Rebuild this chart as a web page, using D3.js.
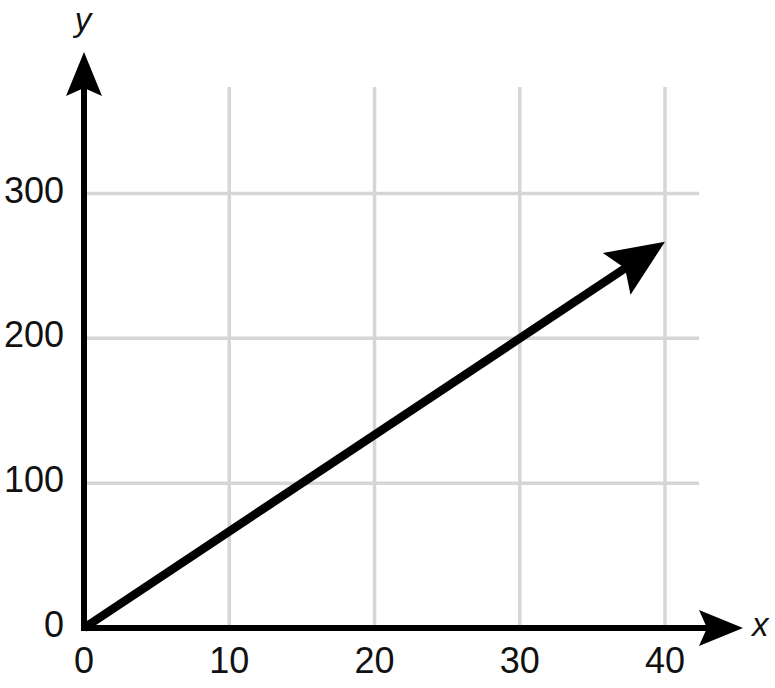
<!DOCTYPE html>
<html lang="en">
<head>
<meta charset="utf-8">
<title>Line y = 20x/3</title>
<script src="https://cdn.jsdelivr.net/npm/d3@7"></script>
<style>
  body { margin: 0; background: #fff; }
  text { font-family: "Liberation Sans", Arial, sans-serif; fill: #111; }
  .grid line { stroke: #d6d6d8; stroke-width: 3.5px; }
</style>
</head>
<body>
<div id="chart"></div>
<script>
// data
var xTicks = [0, 10, 20, 30, 40];
var yTicks = [0, 100, 200, 300];
var lineX = [0, 40];
var lineY = [0, 266.7];

var width = 775, height = 688;

var svg = d3.select("#chart").append("svg")
    .attr("width", width)
    .attr("height", height);

var x = d3.scaleLinear().domain([0, 40]).range([84, 665]);
var y = d3.scaleLinear().domain([0, 300]).range([628, 193.5]);

// grid
var grid = svg.append("g").attr("class", "grid");
grid.selectAll(".v")
    .data(xTicks.filter(d => d > 0))
  .enter().append("line")
    .attr("x1", d => x(d)).attr("x2", d => x(d))
    .attr("y1", y(0)).attr("y2", y(373.5));
grid.selectAll(".h")
    .data(yTicks.filter(d => d > 0))
  .enter().append("line")
    .attr("x1", x(0)).attr("x2", x(42.35))
    .attr("y1", d => y(d)).attr("y2", d => y(d));

// arrow helper: shaft from (x0,y0) to tip (x1,y1)
function arrow(x0, y0, x1, y1, sw, len, hw, notch) {
  var dx = x1 - x0, dy = y1 - y0, l = Math.sqrt(dx * dx + dy * dy);
  var ux = dx / l, uy = dy / l, px = -uy, py = ux;
  var bx = x1 - ux * len, by = y1 - uy * len;
  var nx = x1 - ux * (len - notch), ny = y1 - uy * (len - notch);
  svg.append("line")
      .attr("x1", x0).attr("y1", y0)
      .attr("x2", nx + ux * 1).attr("y2", ny + uy * 1)
      .attr("stroke", "#000").attr("stroke-width", sw);
  svg.append("path")
      .attr("d", "M" + x1 + "," + y1 +
        "L" + (bx + px * hw) + "," + (by + py * hw) +
        "L" + nx + "," + ny +
        "L" + (bx - px * hw) + "," + (by - py * hw) + "Z")
      .attr("fill", "#000");
}

// data line
arrow(x(lineX[0]), y(lineY[0]), x(lineX[1]), y(lineY[1]), 8.5, 58, 25, 10);

// axes
arrow(x(0), y(0) + 3, x(0), 52, 6, 44, 18, 8);
arrow(x(0) - 3, y(0), 743, y(0), 6, 44, 18, 8);

// tick labels
svg.append("g").selectAll("text")
    .data(xTicks)
  .enter().append("text")
    .attr("x", d => x(d))
    .attr("y", y(0) + 45)
    .attr("text-anchor", "middle")
    .attr("font-size", 36)
    .text(d => d);

svg.append("g").selectAll("text")
    .data(yTicks)
  .enter().append("text")
    .attr("x", 64)
    .attr("y", d => y(d) + 9)
    .attr("text-anchor", "end")
    .attr("font-size", 36)
    .text(d => d);

// axis names
svg.append("text")
    .attr("x", 752).attr("y", 636)
    .attr("font-size", 33).attr("font-style", "italic")
    .text("x");
svg.append("text")
    .attr("x", 83).attr("y", 31)
    .attr("text-anchor", "middle")
    .attr("font-size", 33).attr("font-style", "italic")
    .text("y");
</script>
</body>
</html>
